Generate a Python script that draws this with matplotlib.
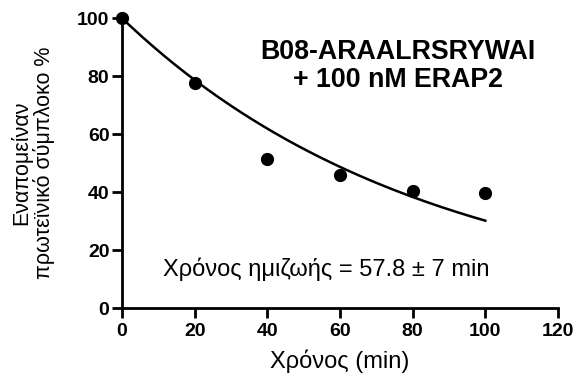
import numpy as np
import matplotlib
matplotlib.use("Agg")
import matplotlib.pyplot as plt

plt.rcParams['font.family'] = ['Liberation Sans', 'DejaVu Sans']

# Measured remaining complex (%) over time (min)
time_min = [0, 20, 40, 60, 80, 100]
remaining_pct = [100, 77.7, 51.5, 45.9, 40.4, 39.6]

# One-phase decay fit
half_life = 57.8
half_life_err = 7
y0 = 100

fig = plt.figure(figsize=(5.77, 3.78), dpi=100)
ax = fig.add_axes([0.2114, 0.185, 0.7556, 0.767])

t_fit = np.linspace(0, 100, 200)
y_fit = y0 * np.exp(-np.log(2) / half_life * t_fit)
ax.plot(t_fit, y_fit, color='black', lw=1.8, clip_on=False, zorder=2)
ax.plot(time_min, remaining_pct, 'o', color='black', ms=8.5, clip_on=False, zorder=3)

ax.set_xlim(0, 120)
ax.set_ylim(0, 100)
ax.set_xticks([0, 20, 40, 60, 80, 100, 120])
ax.set_yticks([0, 20, 40, 60, 80, 100])

for s in ['top', 'right']:
    ax.spines[s].set_visible(False)
for s in ['left', 'bottom']:
    ax.spines[s].set_linewidth(2)
ax.tick_params(direction='out', length=7, width=2, labelsize=14)
ax.tick_params(axis='x', pad=4)
ax.tick_params(axis='y', pad=2)
for lbl in ax.get_xticklabels() + ax.get_yticklabels():
    lbl.set_fontweight('bold')

fig.text(340 / 577, 1 - 361 / 378, 'Χρόνος (min)', ha='center', va='center',
         fontsize=17)
fig.text(33 / 577, 1 - 163 / 378, 'Εναπομείναν\nπρωτεϊνικό σύμπλοκο %',
         ha='center', va='center', rotation=90, fontsize=15.5, linespacing=1.05)

ax.text(76, 83.6, 'B08-ARAALRSRYWAI\n+ 100 nM ERAP2', ha='center', va='center',
        fontsize=19.3, fontweight='bold', linespacing=1.1)
ax.text(56.2, 13.4, f'Χρόνος ημιζωής = {half_life} ± {half_life_err} min',
        ha='center', va='center', fontsize=17)

fig.savefig('out.png', dpi=100)
